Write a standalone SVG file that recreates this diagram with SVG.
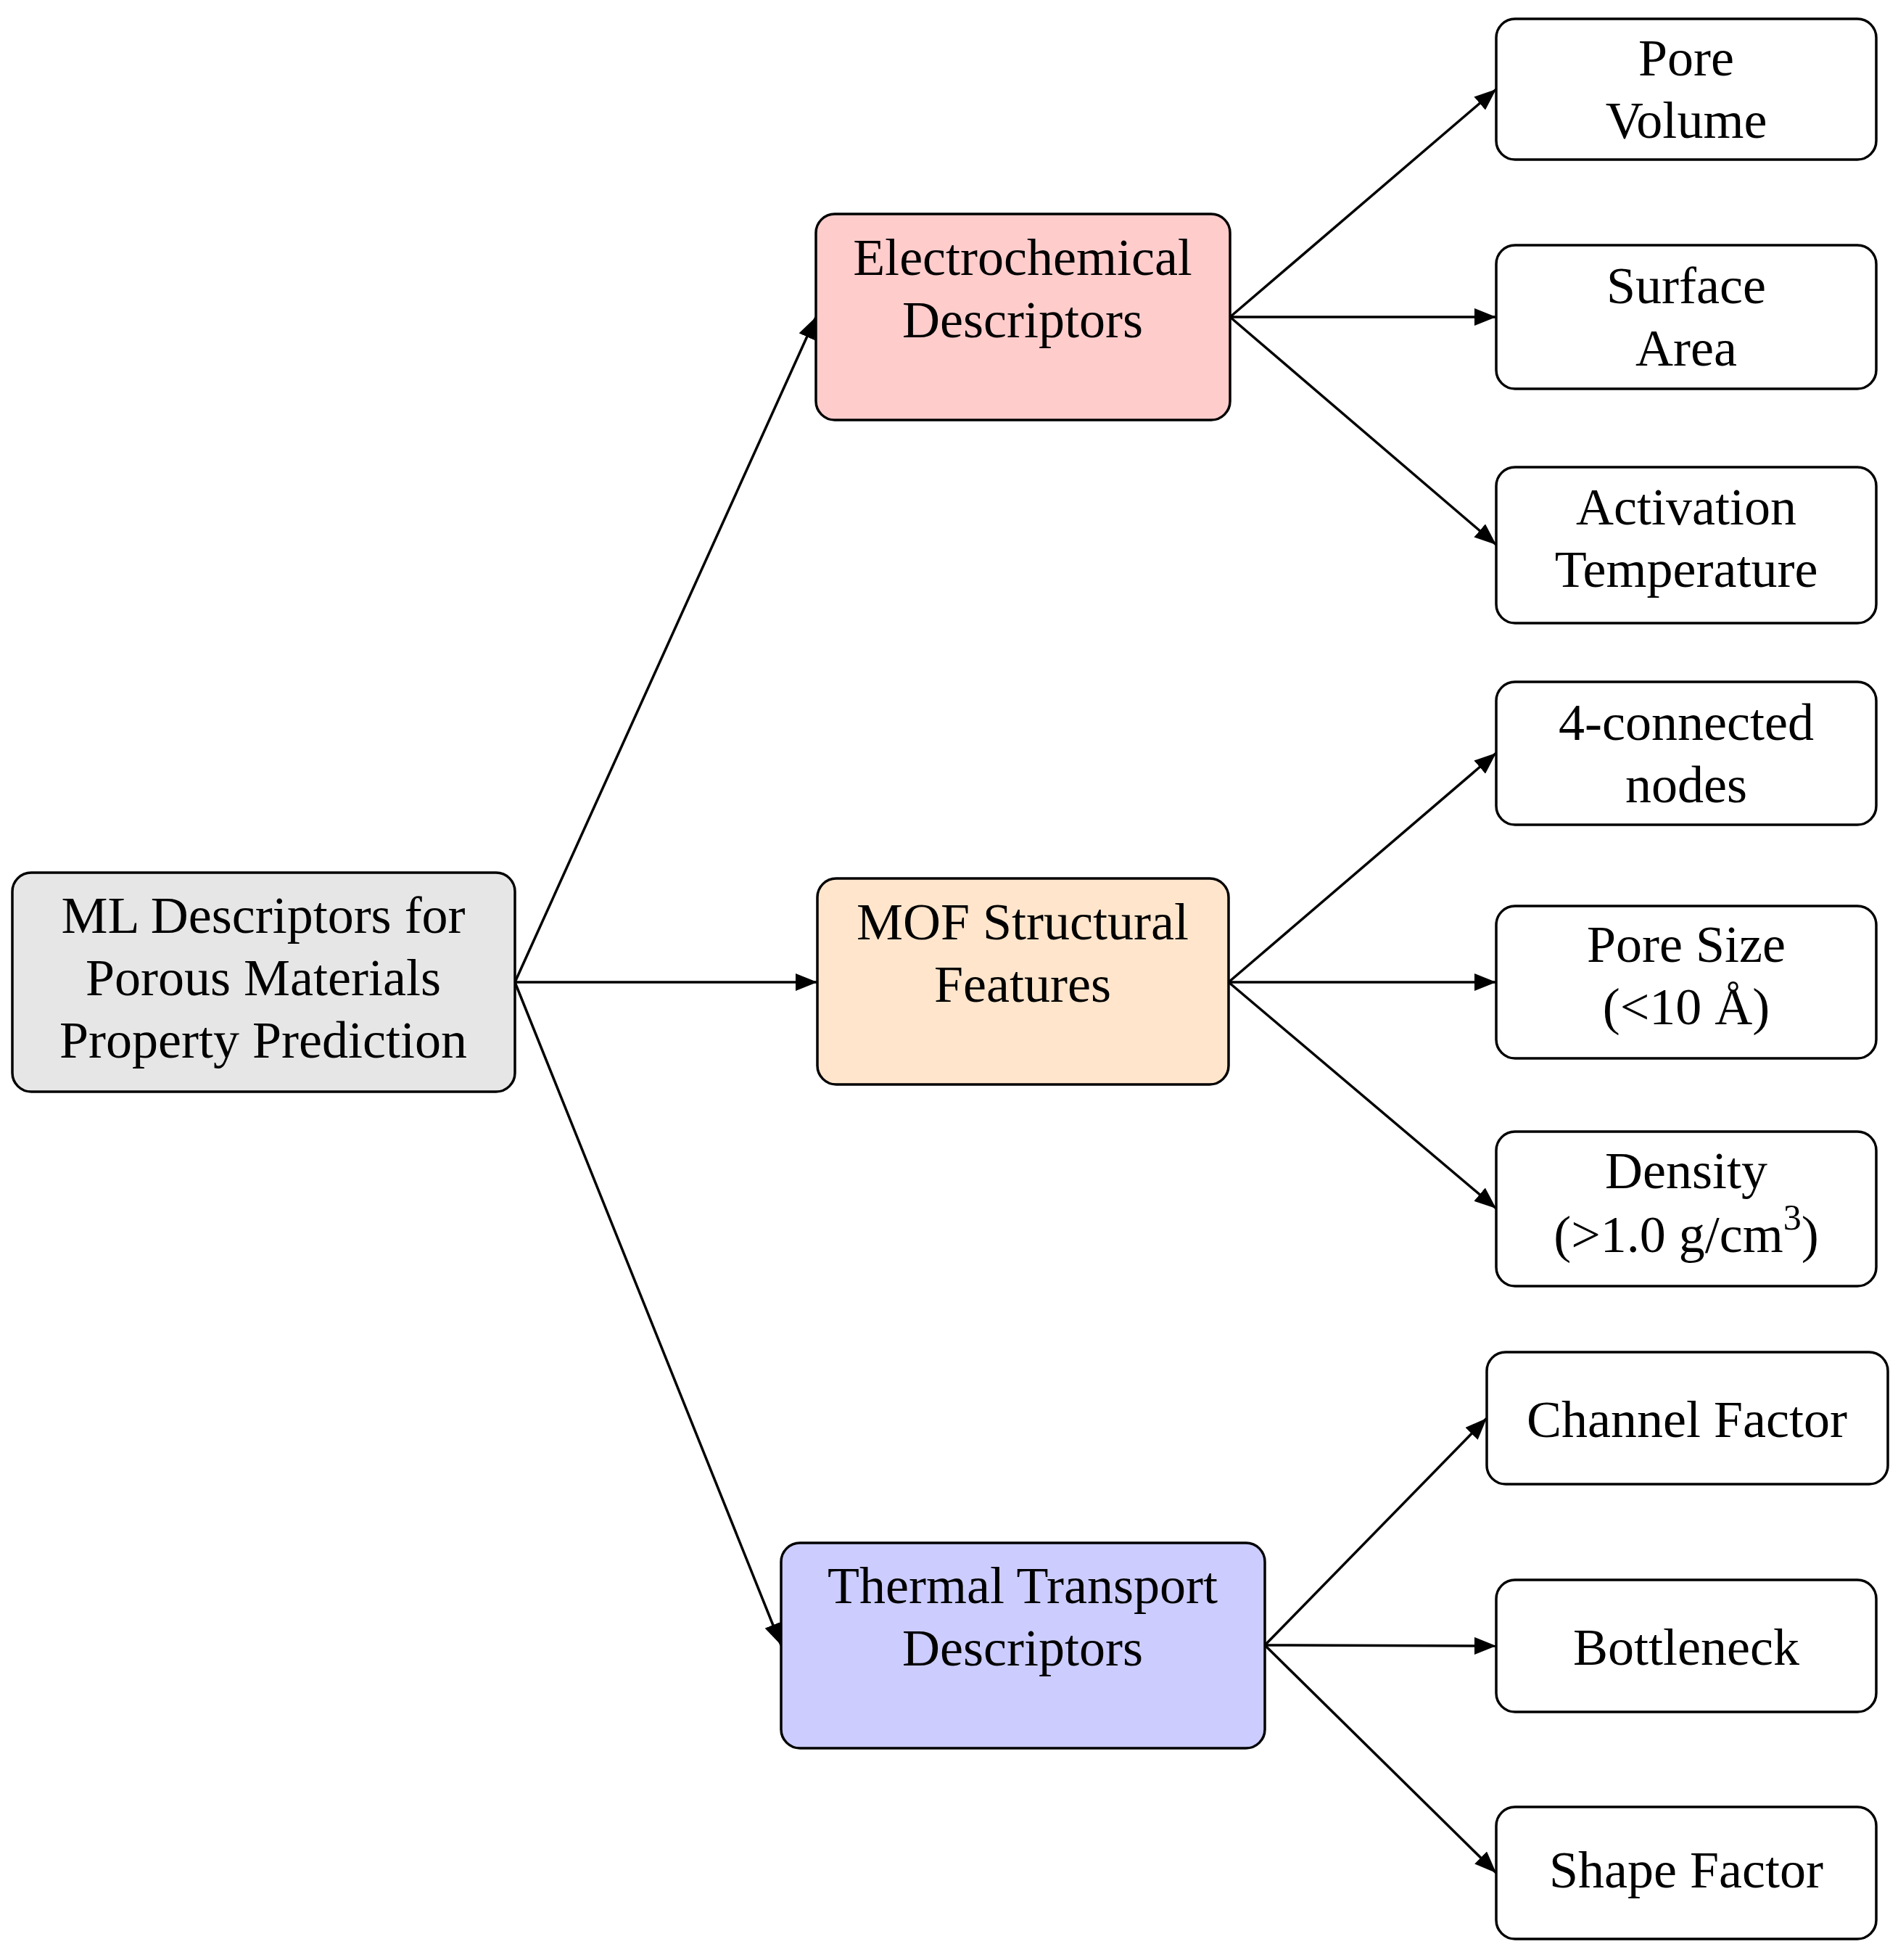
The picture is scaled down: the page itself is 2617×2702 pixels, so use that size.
<svg xmlns="http://www.w3.org/2000/svg" width="2617" height="2702" viewBox="0 0 2617 2702">
<style>
.n{stroke:#000;stroke-width:3.5}
text{font-family:"Liberation Serif",serif;font-size:72px;text-anchor:middle;dominant-baseline:central;fill:#000}
.e{stroke:#000;stroke-width:3.5;fill:none;marker-end:url(#a)}
</style>
<defs><marker id="a" viewBox="0 0 10 10" refX="10" refY="5" markerWidth="10" markerHeight="10" markerUnits="userSpaceOnUse" orient="auto"><path d="M0,0 L10,5 L0,10 z" transform="scale(1)"/></marker>
<marker id="b" viewBox="0 0 10 8" refX="10" refY="4" markerWidth="30" markerHeight="24" markerUnits="userSpaceOnUse" orient="auto"><path d="M0,0 L10,4 L0,8 z"/></marker></defs>
<rect width="2617" height="2702" fill="#fff"/>
<g id="edges" style="marker-end:url(#b)">
<path class="e" style="marker-end:url(#b)" d="M710,1354 L1125,437"/>
<path class="e" style="marker-end:url(#b)" d="M710,1354 L1127,1354"/>
<path class="e" style="marker-end:url(#b)" d="M710,1354 L1077,2268"/>
<path class="e" style="marker-end:url(#b)" d="M1696,437 L2063,123"/>
<path class="e" style="marker-end:url(#b)" d="M1696,437 L2063,437"/>
<path class="e" style="marker-end:url(#b)" d="M1696,437 L2063,751"/>
<path class="e" style="marker-end:url(#b)" d="M1694,1354 L2063,1038"/>
<path class="e" style="marker-end:url(#b)" d="M1694,1354 L2063,1354"/>
<path class="e" style="marker-end:url(#b)" d="M1694,1354 L2063,1666"/>
<path class="e" style="marker-end:url(#b)" d="M1744,2268 L2050,1955"/>
<path class="e" style="marker-end:url(#b)" d="M1744,2268 L2063,2269"/>
<path class="e" style="marker-end:url(#b)" d="M1744,2268 L2063,2582"/>
</g>
<g id="root"><rect class="n" x="17" y="1203" width="693" height="302" rx="26" fill="#e6e6e6"/><text x="363" y="1262">ML Descriptors for</text><text x="363" y="1348">Porous Materials</text><text x="363" y="1434">Property Prediction</text></g>
<g id="electro"><rect class="n" x="1125" y="295" width="571" height="284" rx="26" fill="#ffcccc"/><text x="1410" y="355">Electrochemical</text><text x="1410" y="441">Descriptors</text></g>
<g id="mof"><rect class="n" x="1127" y="1211" width="567" height="284" rx="26" fill="#ffe5cc"/><text x="1410" y="1271">MOF Structural</text><text x="1410" y="1357">Features</text></g>
<g id="thermal"><rect class="n" x="1077" y="2127" width="667" height="283" rx="26" fill="#ccccff"/><text x="1410" y="2186">Thermal Transport</text><text x="1410" y="2272">Descriptors</text></g>
<g id="pv"><rect class="n" x="2063" y="26" width="524" height="194" rx="26" fill="#fff"/><text x="2325" y="80">Pore</text><text x="2325" y="166">Volume</text></g>
<g id="sa"><rect class="n" x="2063" y="338" width="524" height="198" rx="26" fill="#fff"/><text x="2325" y="394">Surface</text><text x="2325" y="480">Area</text></g>
<g id="at"><rect class="n" x="2063" y="644" width="524" height="215" rx="26" fill="#fff"/><text x="2325" y="699">Activation</text><text x="2325" y="785">Temperature</text></g>
<g id="fc"><rect class="n" x="2063" y="940" width="524" height="197" rx="26" fill="#fff"/><text x="2325" y="996">4-connected</text><text x="2325" y="1082">nodes</text></g>
<g id="ps"><rect class="n" x="2063" y="1249" width="524" height="210" rx="26" fill="#fff"/><text x="2325" y="1302">Pore Size</text><text x="2325" y="1388">(&lt;10 Å)</text></g>
<g id="de"><rect class="n" x="2063" y="1560" width="524" height="213" rx="26" fill="#fff"/><text x="2325" y="1614">Density</text><text x="2325" y="1702">(&gt;1.0 g/cm<tspan font-size="50" dy="-24">3</tspan><tspan dy="24">)</tspan></text></g>
<g id="cf"><rect class="n" x="2050" y="1864" width="553" height="182" rx="26" fill="#fff"/><text x="2326" y="1957">Channel Factor</text></g>
<g id="bn"><rect class="n" x="2063" y="2178" width="524" height="182" rx="26" fill="#fff"/><text x="2325" y="2271">Bottleneck</text></g>
<g id="sf"><rect class="n" x="2063" y="2491" width="524" height="182" rx="26" fill="#fff"/><text x="2325" y="2578">Shape Factor</text></g>
</svg>
